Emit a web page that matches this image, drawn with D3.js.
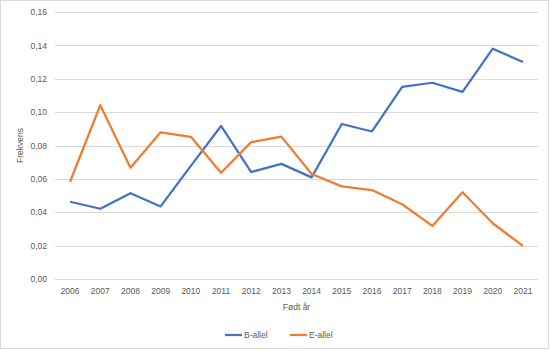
<!DOCTYPE html>
<html>
<head>
<meta charset="utf-8">
<script src="https://cdn.jsdelivr.net/npm/d3@7"></script>
<style>
  body { margin: 0; background: #fff; }
  text { font-family: "Liberation Sans", Arial, sans-serif; fill: #595959; }
</style>
</head>
<body>
<div id="chart"></div>
<script>
/**
 * DATA
 * */
const years = ["2006","2007","2008","2009","2010","2011","2012","2013","2014","2015","2016","2017","2018","2019","2020","2021"];
const bAllel = [0.0463, 0.0421, 0.0514, 0.0435, 0.0678, 0.0917, 0.0641, 0.0690, 0.0609, 0.0929, 0.0884, 0.1152, 0.1176, 0.1121, 0.1380, 0.1300];
const eAllel = [0.0583, 0.1041, 0.0667, 0.0879, 0.0852, 0.0637, 0.0820, 0.0853, 0.0629, 0.0555, 0.0533, 0.0448, 0.0318, 0.0520, 0.0334, 0.0198];
const yTicks = [0, 0.02, 0.04, 0.06, 0.08, 0.10, 0.12, 0.14, 0.16];

const seriesList = [
  { name: "B-allel", values: bAllel, color: "#4472C4" },
  { name: "E-allel", values: eAllel, color: "#ED7D31" }
];

/**
 * CONSTANTS
 * */
const width = 550, height = 351;
const margin = { top: 12, right: 12, bottom: 72, left: 55 };

const svg = d3.select("#chart")
  .append("svg")
  .attr("width", width)
  .attr("height", height);

// chart border
svg.append("rect")
  .attr("x", 0.5).attr("y", 0.5)
  .attr("width", width - 2).attr("height", height - 3)
  .attr("fill", "#fff")
  .attr("stroke", "#d9d9d9");

const x = d3.scaleBand()
  .domain(years)
  .range([margin.left, width - margin.right]);

const y = d3.scaleLinear()
  .domain([0, 0.16])
  .range([height - margin.bottom, margin.top]);

const fmt = d => d3.format(".2f")(d).replace(".", ",");

// gridlines
svg.append("g")
  .selectAll("line")
  .data(yTicks)
  .join("line")
  .attr("x1", margin.left)
  .attr("x2", width - margin.right)
  .attr("y1", d => Math.round(y(d)) + 0.5)
  .attr("y2", d => Math.round(y(d)) + 0.5)
  .attr("stroke", "#d9d9d9")
  .attr("stroke-width", 1);

// y axis labels
const yAxis = d3.axisLeft(y).tickValues(yTicks).tickFormat(fmt).tickSize(0).tickPadding(8);
svg.append("g")
  .attr("transform", `translate(${margin.left},0)`)
  .call(yAxis)
  .call(g => g.select(".domain").remove())
  .selectAll("text")
  .attr("font-size", 8.5)
  .attr("font-family", "Liberation Sans, Arial, sans-serif")
  .attr("fill", "#595959");

// x axis labels
const xAxis = d3.axisBottom(x).tickSize(0).tickPadding(9);
svg.append("g")
  .attr("transform", `translate(0,${height - margin.bottom})`)
  .call(xAxis)
  .call(g => g.select(".domain").remove())
  .selectAll("text")
  .attr("font-size", 8.5)
  .attr("font-family", "Liberation Sans, Arial, sans-serif")
  .attr("fill", "#595959");

// axis titles
svg.append("text")
  .attr("x", (margin.left + width - margin.right) / 2)
  .attr("y", 310)
  .attr("text-anchor", "middle")
  .attr("font-size", 8.5)
  .text("Født år");

svg.append("text")
  .attr("transform", `translate(23,${(margin.top + height - margin.bottom) / 2}) rotate(-90)`)
  .attr("text-anchor", "middle")
  .attr("font-size", 8.5)
  .text("Frekvens");

// lines
const line = d3.line()
  .x((d, i) => x(years[i]) + x.bandwidth() / 2)
  .y(d => y(d));

svg.append("g")
  .selectAll("path")
  .data(seriesList)
  .join("path")
  .attr("d", d => line(d.values))
  .attr("fill", "none")
  .attr("stroke", d => d.color)
  .attr("stroke-width", 2.25)
  .attr("stroke-linejoin", "round");

// legend
const legendX = [225, 290];
const legend = svg.append("g")
  .selectAll("g")
  .data(seriesList)
  .join("g")
  .attr("transform", (d, i) => `translate(${legendX[i]},335)`);

legend.append("line")
  .attr("x1", 0).attr("x2", 17)
  .attr("stroke", d => d.color)
  .attr("stroke-width", 2.25);

legend.append("text")
  .attr("x", 19)
  .attr("y", 3)
  .attr("font-size", 8.5)
  .text(d => d.name);
</script>
</body>
</html>
